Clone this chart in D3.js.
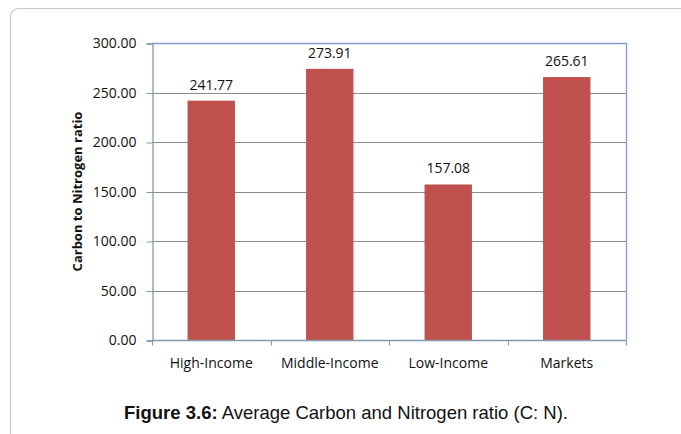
<!DOCTYPE html>
<html><head><meta charset="utf-8">
<script src="https://cdn.jsdelivr.net/npm/d3@7"></script>
<style>body{margin:0;background:#fff}svg{display:block}</style>
</head><body>
<svg id="c" width="681" height="434"></svg>
<script>
const categories = ["High-Income", "Middle-Income", "Low-Income", "Markets"];
const values = [241.77, 273.91, 157.08, 265.61];
const yTicks = [0, 50, 100, 150, 200, 250, 300];
const yTitle = "Carbon to Nitrogen ratio";
const captionBold = "Figure 3.6:";
const captionRest = " Average Carbon and Nitrogen ratio (C: N).";

const svg = d3.select("#c");
svg.append("rect").attr("x", 10.5).attr("y", 8.5).attr("width", 700).attr("height", 440)
  .attr("rx", 8).attr("fill", "#fff").attr("stroke", "#c8c8c8").attr("stroke-width", 1.2);

const L = 152, R = 626, T = 43, B = 340;
const x = d3.scaleBand().domain(categories).range([L, R]).paddingInner(0.6).paddingOuter(0.3);
const y = d3.scaleLinear().domain([0, 300]).range([B, T]);
const font = "'Open Sans', Lato, sans-serif";

// gridlines
svg.append("g").selectAll("line").data(yTicks.filter(d => d > 0)).join("line")
  .attr("x1", L).attr("x2", R).attr("y1", d => Math.round(y(d)) + 0.5).attr("y2", d => Math.round(y(d)) + 0.5)
  .attr("stroke", "#8c8c8c").attr("stroke-width", 1);

// plot border top/right
svg.append("path").attr("d", `M${L},${T + 0.5}H${R + 0.5}V${B}`).attr("fill", "none")
  .attr("stroke", "#7e9fcf").attr("stroke-width", 1.3);

// bars
svg.append("g").selectAll("rect").data(values).join("rect")
  .attr("x", (d, i) => x(categories[i])).attr("width", x.bandwidth())
  .attr("y", d => y(d)).attr("height", d => B - y(d)).attr("fill", "#c0504d");

// labels
svg.append("g").selectAll("text").data(values).join("text")
  .attr("x", (d, i) => x(categories[i]) + x.bandwidth() / 2).attr("y", d => y(d) - 11)
  .attr("text-anchor", "middle").attr("font-family", font).attr("font-size", 14).attr("fill", "#111")
  .text(d => d.toFixed(2));

// y axis
const yAxis = d3.axisLeft(y).tickValues(yTicks).tickFormat(d => d.toFixed(2)).tickSize(6).tickPadding(10);
const gy = svg.append("g").attr("transform", `translate(${L + 0.5},0.5)`).call(yAxis);
gy.select(".domain").attr("stroke", "#8497ad").attr("stroke-width", 1.3);
gy.selectAll(".tick line").attr("stroke", "#8497ad");
gy.selectAll("text").attr("font-family", font).attr("font-size", 14).attr("fill", "#111");

// x axis
const gx = svg.append("g").attr("transform", `translate(0,${B + 0.5})`);
gx.append("line").attr("x1", L).attr("x2", R + 0.5).attr("stroke", "#8497ad").attr("stroke-width", 1.3);
const edges = d3.range(categories.length + 1).map(i => L + i * (R - L) / categories.length);
gx.selectAll("line.t").data(edges).join("line").attr("class", "t")
  .attr("x1", d => Math.round(d) + 0.5).attr("x2", d => Math.round(d) + 0.5).attr("y1", 0).attr("y2", 5)
  .attr("stroke", "#8497ad");
gx.selectAll("text").data(categories).join("text")
  .attr("x", d => x(d) + x.bandwidth() / 2).attr("y", 27)
  .attr("text-anchor", "middle").attr("font-family", font).attr("font-size", 14).attr("fill", "#111")
  .text(d => d);

// y title
svg.append("text").attr("transform", `translate(82,${(T + B) / 2}) rotate(-90)`)
  .attr("text-anchor", "middle").attr("font-family", font).attr("font-weight", "bold")
  .attr("font-size", 13).attr("fill", "#111").text(yTitle);

// caption
const cap = svg.append("text").attr("x", 346).attr("y", 419).attr("text-anchor", "middle")
  .attr("font-family", "'Liberation Sans', Arial, sans-serif").attr("font-size", 18.5).attr("fill", "#111");
cap.append("tspan").attr("font-weight", "bold").text(captionBold);
cap.append("tspan").text(captionRest);
</script>
</body></html>
